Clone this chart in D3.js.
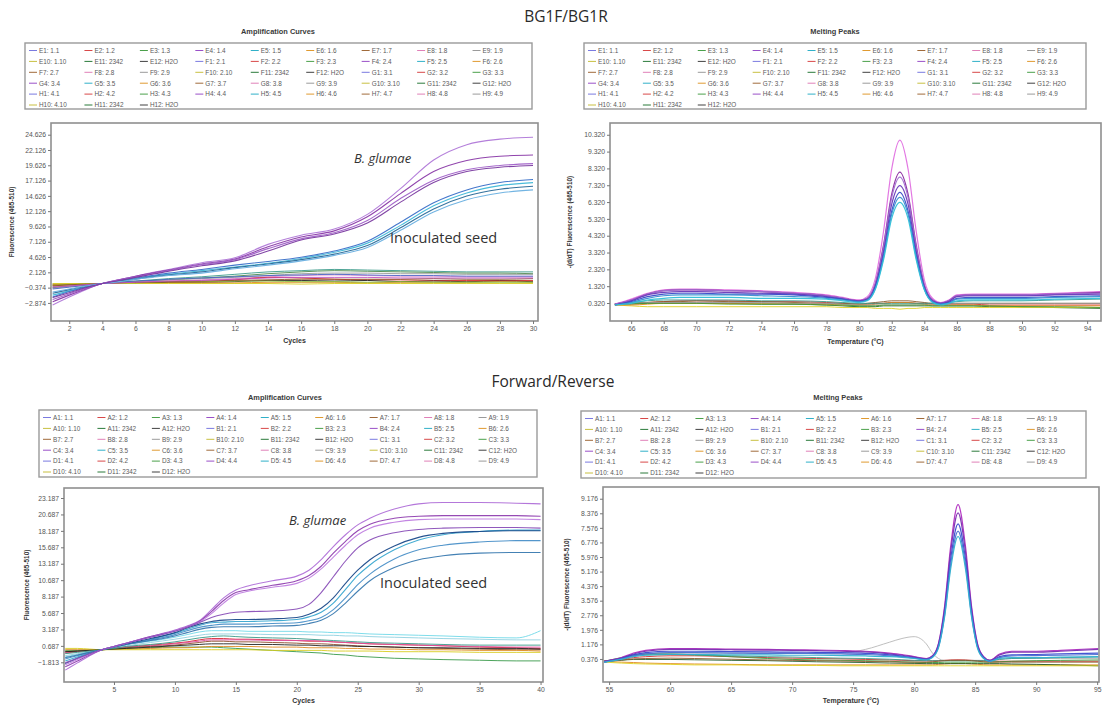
<!DOCTYPE html>
<html>
<head>
<meta charset="utf-8">
<script src="https://cdn.jsdelivr.net/npm/d3@7"></script>
<style>
html, body { margin: 0; padding: 0; background: #fff; }
svg { display: block; font-family: "Liberation Sans", Arial, sans-serif; }
</style>
</head>
<body>
<svg id="chart" width="1105" height="709"></svg>
<script>
// ---------- Legend labels ----------
const legendLabelsBG = [
  "E1: 1.1","E2: 1.2","E3: 1.3","E4: 1.4","E5: 1.5","E6: 1.6","E7: 1.7","E8: 1.8","E9: 1.9",
  "E10: 1.10","E11: 2342","E12: H2O","F1: 2.1","F2: 2.2","F3: 2.3","F4: 2.4","F5: 2.5","F6: 2.6",
  "F7: 2.7","F8: 2.8","F9: 2.9","F10: 2.10","F11: 2342","F12: H2O","G1: 3.1","G2: 3.2","G3: 3.3",
  "G4: 3.4","G5: 3.5","G6: 3.6","G7: 3.7","G8: 3.8","G9: 3.9","G10: 3.10","G11: 2342","G12: H2O",
  "H1: 4.1","H2: 4.2","H3: 4.3","H4: 4.4","H5: 4.5","H6: 4.6","H7: 4.7","H8: 4.8","H9: 4.9",
  "H10: 4.10","H11: 2342","H12: H2O"
];
const legendLabelsFR = [
  "A1: 1.1","A2: 1.2","A3: 1.3","A4: 1.4","A5: 1.5","A6: 1.6","A7: 1.7","A8: 1.8","A9: 1.9",
  "A10: 1.10","A11: 2342","A12: H2O","B1: 2.1","B2: 2.2","B3: 2.3","B4: 2.4","B5: 2.5","B6: 2.6",
  "B7: 2.7","B8: 2.8","B9: 2.9","B10: 2.10","B11: 2342","B12: H2O","C1: 3.1","C2: 3.2","C3: 3.3",
  "C4: 3.4","C5: 3.5","C6: 3.6","C7: 3.7","C8: 3.8","C9: 3.9","C10: 3.10","C11: 2342","C12: H2O",
  "D1: 4.1","D2: 4.2","D3: 4.3","D4: 4.4","D5: 4.5","D6: 4.6","D7: 4.7","D8: 4.8","D9: 4.9",
  "D10: 4.10","D11: 2342","D12: H2O"
];
const legendSwatchColors = ["#7a7ae0","#d84848","#4aa04a","#9a50c8","#30b0c8","#e09a30",
                            "#a06a3a","#e080b8","#9a9a9a","#c8c040","#2a7a3a","#404040"];

// ---------- BG1F/BG1R amplification (fluorescence x1000) ----------
const ampCyclesBG = [1,2,3,4,5,6,7,8,10,12,14,16,18,20,22,24,26,28,30];
const ampTicksXBG = [2,4,6,8,10,12,14,16,18,20,22,24,26,28,30];
const ampTicksYBG = [-2.874,-0.374,2.126,4.626,7.126,9.626,12.126,14.626,17.126,19.626,22.126,24.626];
const ampGlumaeBG = [
  [-3.2,-1.9,-0.7,0.3,0.9,1.5,2.1,2.6,3.7,4.5,6.7,8.2,9.2,11.6,15.8,20.5,23.0,23.9,24.2],
  [-2.7,-1.6,-0.6,0.3,0.9,1.5,2.0,2.5,3.5,4.3,6.3,7.9,8.9,11.2,15.0,18.6,20.4,21.1,21.3],
  [-2.3,-1.4,-0.5,0.3,0.9,1.4,1.9,2.4,3.4,4.2,6.0,7.6,8.6,10.6,14.2,17.2,18.9,19.6,19.9],
  [-2.0,-1.2,-0.4,0.3,0.8,1.3,1.8,2.3,3.2,4.0,5.6,7.4,8.4,10.2,13.6,16.8,18.6,19.3,19.6]
];
const ampSeedBG = [
  [-1.6,-0.9,-0.3,0.3,0.7,1.1,1.5,1.8,2.4,3.0,3.6,4.4,5.4,6.9,9.8,13.0,15.1,16.3,16.8],
  [-1.9,-1.0,-0.3,0.3,0.8,1.2,1.6,2.0,2.6,3.3,3.9,4.6,5.6,7.2,10.3,13.5,15.6,16.8,17.3],
  [-1.3,-0.7,-0.2,0.3,0.7,1.0,1.4,1.7,2.2,2.9,3.5,4.2,5.1,6.5,9.4,12.5,14.6,15.7,16.2],
  [-1.1,-0.6,-0.1,0.3,0.6,1.0,1.3,1.6,2.0,2.7,3.3,4.0,4.9,6.2,9.0,12.0,14.0,15.1,15.6]
];
const ampNegativeBG = [
  [-0.4,-0.1,0.1,0.3,0.5,0.7,0.9,1.1,1.4,1.8,2.2,2.4,2.6,2.5,2.4,2.3,2.2,2.2,2.2],
  [-0.3,-0.1,0.1,0.3,0.5,0.6,0.8,0.9,1.2,1.5,1.9,2.2,2.4,2.3,2.2,2.1,2.0,2.0,1.9],
  [-0.5,-0.2,0.0,0.3,0.4,0.6,0.7,0.9,1.1,1.3,1.6,1.9,2.0,2.0,1.9,1.9,1.8,1.8,1.8],
  [-0.2,0.0,0.2,0.3,0.4,0.5,0.6,0.7,0.9,1.1,1.4,1.6,1.7,1.6,1.5,1.5,1.4,1.4,1.4],
  [0.0,0.1,0.2,0.3,0.3,0.4,0.5,0.5,0.6,0.9,1.3,1.2,1.0,0.9,0.9,0.8,0.8,0.8,0.8],
  [0.2,0.2,0.3,0.3,0.3,0.4,0.4,0.5,0.5,0.6,0.8,0.8,0.7,0.8,0.6,0.7,0.6,0.7,0.6],
  [0.1,0.2,0.2,0.3,0.3,0.3,0.3,0.4,0.4,0.4,0.5,0.5,0.5,0.4,0.5,0.5,0.5,0.6,0.5],
  [0.3,0.3,0.3,0.3,0.3,0.3,0.3,0.3,0.3,0.3,0.3,0.2,0.3,0.3,0.3,0.3,0.3,0.3,0.3],
  [0.0,0.1,0.2,0.3,0.4,0.4,0.5,0.6,0.6,0.7,0.7,0.6,0.6,0.5,0.6,0.5,0.5,0.5,0.5],
  [-0.1,0.1,0.2,0.3,0.4,0.5,0.5,0.6,0.7,0.8,0.9,1.0,1.0,1.0,1.0,1.1,1.0,1.0,1.1],
  [-0.6,-0.3,0.0,0.3,0.5,0.7,0.8,1.0,1.2,1.4,1.6,1.7,1.8,1.7,1.6,1.6,1.5,1.5,1.5],
  [-0.3,-0.1,0.1,0.3,0.4,0.5,0.6,0.7,0.8,1.0,1.2,1.3,1.3,1.3,1.2,1.2,1.2,1.2,1.2]
];

// ---------- BG1F/BG1R melting peaks ----------
const meltTempsBG = [65,66,67,68,69,70,72,74,76,78,79,80,80.5,81,81.5,82,82.5,83,83.5,84,84.5,85,85.5,86,87,88,90,92,94.8];
const meltTicksXBG = [66,68,70,72,74,76,78,80,82,84,86,88,90,92,94];
const meltTicksYBG = [0.32,1.32,2.32,3.32,4.32,5.32,6.32,7.32,8.32,9.32,10.32];
const meltPeakBG = [
  [0.25,0.55,0.9,1.1,1.15,1.15,1.1,1.05,0.95,0.8,0.65,0.5,0.7,1.8,4.6,8.3,10.0,8.3,4.6,1.7,0.6,0.35,0.5,0.8,0.85,0.85,0.85,0.9,1.0],
  [0.25,0.5,0.85,1.05,1.1,1.1,1.05,1.0,0.9,0.75,0.6,0.45,0.6,1.5,3.8,6.8,8.1,6.8,3.8,1.4,0.5,0.3,0.45,0.75,0.8,0.8,0.8,0.85,0.95],
  [0.25,0.5,0.85,1.05,1.1,1.1,1.05,1.0,0.9,0.75,0.6,0.45,0.6,1.45,3.65,6.6,7.8,6.6,3.65,1.35,0.5,0.3,0.45,0.75,0.8,0.8,0.8,0.85,0.9],
  [0.2,0.45,0.8,0.95,1.0,1.0,0.95,0.9,0.85,0.7,0.55,0.45,0.55,1.35,3.4,6.2,7.3,6.2,3.4,1.3,0.45,0.3,0.4,0.7,0.75,0.75,0.75,0.8,0.85],
  [0.2,0.4,0.7,0.85,0.9,0.9,0.85,0.85,0.8,0.65,0.55,0.4,0.5,1.3,3.2,5.8,6.9,5.8,3.2,1.2,0.4,0.25,0.35,0.6,0.65,0.65,0.65,0.7,0.75],
  [0.2,0.35,0.6,0.75,0.8,0.8,0.8,0.75,0.7,0.6,0.5,0.4,0.5,1.2,3.05,5.6,6.6,5.6,3.05,1.15,0.4,0.25,0.3,0.55,0.6,0.6,0.6,0.65,0.7],
  [0.2,0.3,0.5,0.6,0.65,0.65,0.65,0.6,0.6,0.55,0.45,0.35,0.45,1.15,2.9,5.35,6.3,5.35,2.9,1.1,0.35,0.2,0.3,0.45,0.5,0.5,0.5,0.55,0.6]
];
const meltNegativeBG = [
  [0.25,0.3,0.35,0.4,0.45,0.45,0.45,0.4,0.4,0.35,0.3,0.25,0.25,0.3,0.3,0.35,0.35,0.35,0.3,0.3,0.25,0.25,0.25,0.25,0.25,0.2,0.2,0.2,0.2],
  [0.25,0.3,0.35,0.4,0.4,0.45,0.4,0.4,0.35,0.3,0.3,0.25,0.3,0.35,0.4,0.45,0.45,0.45,0.4,0.35,0.3,0.3,0.3,0.3,0.3,0.3,0.3,0.3,0.3],
  [0.25,0.25,0.3,0.3,0.3,0.3,0.3,0.25,0.25,0.2,0.15,0.1,0.1,0.1,0.15,0.15,0.15,0.15,0.15,0.15,0.15,0.15,0.15,0.15,0.15,0.1,0.1,0.05,0.0],
  [0.2,0.15,0.1,0.1,0.1,0.1,0.1,0.1,0.1,0.1,0.05,0.05,0.05,0.0,0.0,0.0,-0.05,0.0,0.0,0.05,0.05,0.05,0.05,0.05,0.05,0.05,0.05,0.05,0.05],
  [0.2,0.2,0.25,0.3,0.3,0.3,0.3,0.3,0.3,0.25,0.2,0.2,0.2,0.25,0.3,0.35,0.35,0.35,0.3,0.25,0.2,0.2,0.2,0.2,0.2,0.15,0.15,0.15,0.15],
  [0.25,0.35,0.45,0.5,0.5,0.5,0.5,0.45,0.45,0.4,0.35,0.3,0.3,0.3,0.3,0.3,0.3,0.3,0.3,0.3,0.3,0.3,0.35,0.4,0.45,0.45,0.45,0.5,0.55],
  [0.25,0.3,0.35,0.35,0.35,0.35,0.35,0.35,0.3,0.3,0.25,0.2,0.2,0.2,0.2,0.2,0.2,0.2,0.2,0.2,0.2,0.25,0.25,0.3,0.3,0.3,0.3,0.3,0.3],
  [0.25,0.3,0.3,0.3,0.3,0.3,0.25,0.25,0.25,0.2,0.2,0.15,0.15,0.15,0.2,0.2,0.2,0.2,0.2,0.2,0.15,0.15,0.15,0.15,0.15,0.15,0.1,0.1,0.05]
];

// ---------- Forward/Reverse amplification ----------
const ampCyclesFR = [1,2,3,4,5,6,8,10,11,12,13,14,15,16,18,20,21,22,23,24,25,26,28,30,32,35,38,40];
const ampTicksXFR = [5,10,15,20,25,30,35,40];
const ampTicksYFR = [-1.813,0.687,3.187,5.687,8.187,10.687,13.187,15.687,18.187,20.687,23.187];
const ampGlumaeFR = [
  [-3.0,-1.9,-0.8,0.1,0.6,1.1,2.1,3.1,3.7,4.5,6.2,8.0,9.2,9.8,10.6,11.3,12.2,13.8,15.8,17.6,19.1,20.1,21.5,22.3,22.5,22.5,22.4,22.3],
  [-2.5,-1.6,-0.7,0.1,0.6,1.1,2.1,3.0,3.6,4.4,5.9,7.6,8.8,9.2,9.9,10.6,11.4,12.8,14.8,16.6,18.2,19.2,20.1,20.4,20.5,20.5,20.5,20.4],
  [-2.2,-1.4,-0.6,0.1,0.6,1.1,2.0,3.0,3.6,4.3,5.6,7.2,8.5,9.0,9.6,10.2,11.0,12.4,14.2,16.0,17.6,18.6,19.5,19.9,20.0,20.0,20.0,19.9],
  [-1.9,-1.2,-0.5,0.1,0.6,1.1,2.0,2.9,3.5,4.2,5.0,5.5,5.8,5.9,6.0,6.3,7.0,8.8,11.2,13.6,15.6,16.8,17.9,18.4,18.6,18.7,18.7,18.6]
];
const ampSeedFR = [
  [-1.6,-1.0,-0.4,0.1,0.5,0.9,1.7,2.6,3.2,3.8,4.2,4.3,4.4,4.4,4.5,4.7,5.1,5.8,7.2,9.3,11.4,13.0,15.3,16.8,17.6,18.1,18.3,18.3],
  [-1.3,-0.8,-0.3,0.1,0.5,0.9,1.6,2.4,3.0,3.5,3.8,4.0,4.0,4.0,4.1,4.2,4.5,5.0,6.2,8.0,10.0,11.6,13.9,15.3,16.0,16.5,16.7,16.7],
  [-1.1,-0.7,-0.3,0.1,0.5,0.9,1.5,2.2,2.7,3.2,3.5,3.6,3.6,3.6,3.7,3.8,4.1,4.6,5.6,7.2,9.0,10.6,12.6,13.8,14.4,14.8,14.9,14.9],
  [-2.0,-1.2,-0.5,0.1,0.6,1.0,1.8,2.7,3.4,4.0,4.4,4.6,4.7,4.7,4.8,5.0,5.5,6.4,8.0,10.2,12.2,13.8,15.9,17.2,17.8,18.1,18.2,18.2]
];
const ampNegativeFR = [
  [-1.0,-0.6,-0.2,0.1,0.5,0.9,1.4,2.0,2.4,2.8,3.0,3.0,3.0,2.9,2.9,2.9,2.8,2.8,2.7,2.7,2.6,2.5,2.4,2.3,2.2,2.0,1.9,3.0],
  [-0.8,-0.5,-0.2,0.1,0.4,0.7,1.2,1.7,2.0,2.3,2.5,2.5,2.5,2.5,2.4,2.4,2.4,2.3,2.3,2.2,2.2,2.1,2.0,1.9,1.8,1.7,1.6,1.6],
  [-0.4,-0.2,0.0,0.1,0.3,0.5,0.8,1.1,1.3,1.6,1.8,1.8,1.7,1.7,1.6,1.5,1.4,1.4,1.3,1.2,1.1,1.0,0.9,0.8,0.7,0.5,0.4,0.3],
  [-0.3,-0.1,0.0,0.1,0.3,0.5,0.7,1.0,1.2,1.4,1.6,1.6,1.6,1.6,1.5,1.5,1.5,1.4,1.3,1.2,1.1,1.0,0.9,0.8,0.7,0.6,0.5,0.5],
  [-0.2,-0.1,0.0,0.1,0.2,0.4,0.6,0.8,1.0,1.2,1.4,1.4,1.3,1.3,1.2,1.1,1.0,1.0,0.9,0.8,0.7,0.6,0.5,0.4,0.3,0.2,0.1,0.1],
  [0.0,0.0,0.1,0.1,0.2,0.3,0.4,0.5,0.5,0.5,0.5,0.4,0.3,0.2,0.0,-0.2,-0.3,-0.4,-0.6,-0.7,-0.9,-1.0,-1.2,-1.3,-1.4,-1.5,-1.6,-1.6],
  [0.1,0.1,0.1,0.1,0.2,0.2,0.3,0.4,0.4,0.5,0.6,0.6,0.6,0.6,0.5,0.5,0.4,0.4,0.4,0.3,0.3,0.2,0.2,0.1,0.1,0.0,0.0,-0.1],
  [0.3,0.3,0.2,0.1,0.1,0.1,0.1,0.1,0.1,0.1,0.1,0.1,0.1,0.1,0.0,0.0,0.0,0.0,-0.1,-0.1,-0.1,-0.1,-0.2,-0.2,-0.2,-0.3,-0.3,-0.3],
  [-0.2,-0.1,0.0,0.1,0.2,0.3,0.5,0.7,0.8,0.9,1.0,1.0,1.0,0.9,0.9,0.8,0.8,0.7,0.7,0.7,0.6,0.6,0.5,0.4,0.4,0.3,0.3,0.2],
  [-0.5,-0.3,-0.1,0.1,0.3,0.6,0.9,1.3,1.6,1.9,2.1,2.2,2.1,2.0,1.9,1.8,1.7,1.6,1.5,1.4,1.3,1.2,1.1,1.0,0.9,0.8,0.8,0.8]
];

// ---------- Forward/Reverse melting peaks ----------
const meltTempsFR = [54.6,56,57,58,60,62,65,68,70,72,74,76,78,79,80,81,81.5,82,82.5,83,83.6,84.2,84.7,85.2,85.7,86.2,87,88,90,92,95.1];
const meltTicksXFR = [55,60,65,70,75,80,85,90,95];
const meltTicksYFR = [0.376,1.176,1.976,2.776,3.576,4.376,5.176,5.976,6.776,7.576,8.376,9.176];
const meltPeakFR = [
  [0.25,0.45,0.7,0.85,0.95,0.95,0.92,0.9,0.88,0.86,0.84,0.8,0.7,0.62,0.5,0.4,0.55,1.25,3.3,6.6,8.85,6.6,3.3,1.2,0.5,0.3,0.65,0.8,0.8,0.85,0.95],
  [0.25,0.42,0.65,0.8,0.9,0.9,0.88,0.86,0.85,0.83,0.8,0.76,0.66,0.58,0.48,0.38,0.52,1.2,3.15,6.3,8.4,6.3,3.15,1.15,0.48,0.3,0.6,0.75,0.75,0.8,0.9],
  [0.2,0.4,0.6,0.72,0.8,0.8,0.78,0.76,0.75,0.74,0.72,0.68,0.6,0.53,0.44,0.35,0.5,1.1,2.95,5.9,7.8,5.9,2.95,1.05,0.45,0.25,0.5,0.6,0.62,0.65,0.7],
  [0.2,0.38,0.55,0.65,0.72,0.72,0.7,0.68,0.68,0.67,0.65,0.62,0.55,0.5,0.42,0.34,0.48,1.05,2.8,5.6,7.4,5.6,2.8,1.0,0.42,0.25,0.45,0.55,0.56,0.58,0.62],
  [0.2,0.35,0.5,0.58,0.62,0.62,0.6,0.6,0.58,0.58,0.56,0.54,0.5,0.46,0.4,0.32,0.45,1.0,2.7,5.35,7.1,5.35,2.7,0.95,0.4,0.25,0.4,0.45,0.45,0.48,0.5]
];
const meltNegativeFR = [
  [0.25,0.4,0.55,0.65,0.7,0.7,0.7,0.7,0.7,0.7,0.7,0.9,1.3,1.5,1.6,1.2,0.7,0.4,0.3,0.3,0.3,0.3,0.3,0.3,0.3,0.3,0.35,0.4,0.4,0.4,0.4],
  [0.25,0.35,0.45,0.5,0.55,0.55,0.5,0.45,0.42,0.4,0.38,0.35,0.32,0.3,0.28,0.27,0.27,0.28,0.3,0.32,0.33,0.32,0.3,0.28,0.27,0.26,0.25,0.25,0.25,0.25,0.25],
  [0.25,0.45,0.6,0.65,0.65,0.6,0.5,0.4,0.35,0.32,0.3,0.28,0.25,0.22,0.2,0.18,0.18,0.18,0.2,0.2,0.2,0.2,0.2,0.2,0.2,0.2,0.22,0.25,0.28,0.3,0.32],
  [0.25,0.4,0.55,0.6,0.62,0.6,0.55,0.5,0.48,0.45,0.42,0.4,0.36,0.33,0.3,0.28,0.28,0.28,0.28,0.28,0.28,0.28,0.28,0.28,0.28,0.3,0.35,0.4,0.42,0.45,0.48],
  [0.25,0.2,0.18,0.15,0.12,0.1,0.08,0.05,0.05,0.05,0.05,0.05,0.05,0.05,0.05,0.05,0.05,0.08,0.1,0.12,0.12,0.12,0.1,0.08,0.06,0.05,0.05,0.05,0.05,0.05,0.05],
  [0.25,0.3,0.35,0.35,0.35,0.33,0.3,0.28,0.25,0.22,0.2,0.18,0.15,0.14,0.13,0.12,0.12,0.12,0.12,0.12,0.12,0.12,0.12,0.12,0.12,0.12,0.12,0.1,0.08,0.05,0.0],
  [0.2,0.15,0.12,0.1,0.08,0.05,0.05,0.03,0.02,0.02,0.0,0.0,0.0,0.0,0.0,0.0,0.0,0.0,0.0,0.0,0.0,0.0,0.0,0.0,0.0,0.0,0.0,0.0,0.0,0.0,0.0],
  [0.25,0.32,0.38,0.4,0.42,0.4,0.36,0.32,0.3,0.28,0.26,0.24,0.22,0.2,0.2,0.2,0.22,0.25,0.28,0.3,0.3,0.3,0.28,0.25,0.22,0.2,0.2,0.2,0.2,0.2,0.2]
];

// ---------- line colours ----------
const glumaeColors = ["#b078d8","#8a3aa8","#a060c8","#7a3aa0"];
const seedColors = ["#40b8d8","#3a70c8","#2a6a98","#6ab0e0"];
const negColorsAmpBG = ["#3a9a8a","#4a8a4a","#9a9a9a","#e088c8","#d42020","#222222","#e08a20","#d8cc20","#8cc040","#8b5a2b","#4a66c8","#c050c0"];
const peakColorsBG = ["#e070e0","#8a2aa0","#a070d0","#6a3ab8","#3a4ac8","#3a90d0","#30c0d8"];
const negColorsMeltBG = ["#d03030","#8b5a2b","#1f6a2a","#e0d020","#e08a20","#3a9a8a","#9a9a9a","#4a9a3a"];
const glumaeColorsFR = ["#b070d8","#9040b0","#c080e0","#8a50b8"];
const seedColorsFR = ["#3aa8d0","#4a90c8","#3a7ab0","#1a4a8a"];
const negColorsAmpFR = ["#70d8e8","#90d0e0","#d42030","#e050a0","#8b4a2b","#3a9a4a","#e08a20","#d8cc20","#222222","#3a9a8a"];
const peakColorsFR = ["#b030c0","#7a30b0","#3a4ad0","#4a70d0","#30b0d0"];
const negColorsMeltFR = ["#b8b8b8","#d03030","#3a9a3a","#3a9a8a","#e08a20","#1f5a2a","#e0d020","#8b5a2b"];

const svg = d3.select("#chart");
const defs = svg.append("defs");
let clipCount = 0;

function drawLegend(box, labels) {
  const [x0, y0, x1, y1] = box;
  const g = svg.append("g");
  g.append("rect").attr("x", x0).attr("y", y0).attr("width", x1 - x0).attr("height", y1 - y0)
    .attr("fill", "#fff").attr("stroke", "#9a9a9a").attr("stroke-width", 1.4);
  const colW = (x1 - x0 - 8) / 9;
  labels.forEach((lab, i) => {
    const cx = x0 + 4 + (i % 9) * colW;
    const cy = y0 + 7.5 + Math.floor(i / 9) * 10.9;
    g.append("line").attr("x1", cx).attr("x2", cx + 8).attr("y1", cy).attr("y2", cy)
      .attr("stroke", legendSwatchColors[i % legendSwatchColors.length]).attr("stroke-width", 1);
    g.append("text").attr("x", cx + 10).attr("y", cy + 2.3).attr("font-size", 6.4)
      .attr("fill", "#5a5a5a").text(lab);
  });
}

function drawPanel(p) {
  const [fx0, fy0, fx1, fy1] = p.frame;
  const x = d3.scaleLinear().domain(p.xDomain).range([fx0, fx1]);
  const y = d3.scaleLinear().domain(p.yDomain).range([fy1, fy0]);
  const g = svg.append("g");
  const cid = "clip" + (clipCount++);
  defs.append("clipPath").attr("id", cid).append("rect")
    .attr("x", fx0).attr("y", fy0).attr("width", fx1 - fx0).attr("height", fy1 - fy0);

  g.append("rect").attr("x", fx0).attr("y", fy0).attr("width", fx1 - fx0).attr("height", fy1 - fy0)
    .attr("fill", "#fff");

  const line = d3.line()
    .x((d, i) => x(p.xs[i]))
    .y(d => y(d))
    .curve(d3.curveMonotoneX);

  const lines = g.append("g").attr("clip-path", `url(#${cid})`);
  p.groups.forEach(grp => {
    grp.data.forEach((vals, k) => {
      lines.append("path").attr("d", line(vals)).attr("fill", "none")
        .attr("stroke", grp.colors[k % grp.colors.length])
        .attr("stroke-width", grp.width).attr("stroke-opacity", grp.opacity);
    });
  });

  g.append("rect").attr("x", fx0).attr("y", fy0).attr("width", fx1 - fx0).attr("height", fy1 - fy0)
    .attr("fill", "none").attr("stroke", "#8f8f8f").attr("stroke-width", 1.6);

  const xAxis = g.append("g").attr("transform", `translate(0,${fy1})`)
    .call(d3.axisBottom(x).tickValues(p.xTicks).tickSize(3).tickPadding(2).tickFormat(d3.format("d")));
  const yAxis = g.append("g").attr("transform", `translate(${fx0},0)`)
    .call(d3.axisLeft(y).tickValues(p.yTicks).tickSize(3).tickPadding(2).tickFormat(d3.format(".3f")));
  [xAxis, yAxis].forEach(a => {
    a.select(".domain").remove();
    a.selectAll(".tick line").attr("stroke", "#777");
    a.selectAll(".tick text").attr("font-size", 6.8).attr("fill", "#555")
      .attr("font-family", "Liberation Sans, Arial, sans-serif");
  });

  g.append("text").attr("x", (fx0 + fx1) / 2).attr("y", p.xTitleY)
    .attr("text-anchor", "middle").attr("font-size", 7).attr("font-weight", "bold")
    .attr("fill", "#333").text(p.xTitle);
  g.append("text").attr("transform", `translate(${p.yTitleX},${(fy0 + fy1) / 2}) rotate(-90)`)
    .attr("text-anchor", "middle").attr("font-size", 6.4).attr("font-weight", "bold")
    .attr("fill", "#333").text(p.yTitle);

  (p.notes || []).forEach(n => {
    g.append("text").attr("x", n.x).attr("y", n.y).attr("font-size", n.size)
      .attr("font-style", n.italic ? "italic" : "normal")
      .attr("font-family", "Open Sans, Noto Sans, sans-serif")
      .attr("fill", "#333").text(n.text);
  });
}

function plotTitle(text, cx, y) {
  svg.append("text").attr("x", cx).attr("y", y).attr("text-anchor", "middle")
    .attr("font-size", 7.4).attr("font-weight", "bold").attr("fill", "#3a3a3a").text(text);
}

// ---------- headings ----------
svg.append("text").attr("x", 566).attr("y", 22).attr("text-anchor", "middle")
  .attr("font-family", "Open Sans, Noto Sans, sans-serif").attr("font-size", 15.5)
  .attr("fill", "#2a2a2a").text("BG1F/BG1R");
svg.append("text").attr("x", 553).attr("y", 387).attr("text-anchor", "middle")
  .attr("font-family", "Open Sans, Noto Sans, sans-serif").attr("font-size", 15.5)
  .attr("fill", "#2a2a2a").text("Forward/Reverse");

// ---------- top-left: amplification ----------
plotTitle("Amplification Curves", 278, 34);
drawLegend([25, 43, 532, 109], legendLabelsBG);
drawPanel({
  frame: [51, 123, 538, 321],
  xDomain: [0.9, 30.3], yDomain: [-5.83, 26.54],
  xs: ampCyclesBG, xTicks: ampTicksXBG, yTicks: ampTicksYBG,
  xTitle: "Cycles", xTitleY: 343,
  yTitle: "Fluorescence (465-510)", yTitleX: 14,
  groups: [
    { data: ampNegativeBG, colors: negColorsAmpBG, width: 1, opacity: 0.9 },
    { data: ampSeedBG, colors: seedColors, width: 1.1, opacity: 0.95 },
    { data: ampGlumaeBG, colors: glumaeColors, width: 1.1, opacity: 0.95 }
  ],
  notes: [
    { text: "B. glumae", x: 354, y: 163, size: 13, italic: true },
    { text: "Inoculated seed", x: 390, y: 243, size: 14.5, italic: false }
  ]
});

// ---------- top-right: melting peaks ----------
plotTitle("Melting Peaks", 835, 34);
drawLegend([584, 43, 1086, 109], legendLabelsBG);
drawPanel({
  frame: [610, 123, 1101, 321],
  xDomain: [64.7, 94.85], yDomain: [-0.75, 11.02],
  xs: meltTempsBG, xTicks: meltTicksXBG, yTicks: meltTicksYBG,
  xTitle: "Temperature (°C)", xTitleY: 344,
  yTitle: "-(d/dT) Fluorescence (465-510)", yTitleX: 572,
  groups: [
    { data: meltNegativeBG, colors: negColorsMeltBG, width: 1, opacity: 0.9 },
    { data: meltPeakBG, colors: peakColorsBG, width: 1.2, opacity: 0.95 }
  ]
});

// ---------- bottom-left: amplification ----------
plotTitle("Amplification Curves", 285, 400);
drawLegend([39, 410, 537, 477], legendLabelsFR);
drawPanel({
  frame: [64, 488, 543, 682],
  xDomain: [0.9, 40.2], yDomain: [-4.81, 24.71],
  xs: ampCyclesFR, xTicks: ampTicksXFR, yTicks: ampTicksYFR,
  xTitle: "Cycles", xTitleY: 703,
  yTitle: "Fluorescence (465-510)", yTitleX: 29,
  groups: [
    { data: ampNegativeFR, colors: negColorsAmpFR, width: 1, opacity: 0.9 },
    { data: ampSeedFR, colors: seedColorsFR, width: 1.1, opacity: 0.95 },
    { data: ampGlumaeFR, colors: glumaeColorsFR, width: 1.1, opacity: 0.95 }
  ],
  notes: [
    { text: "B. glumae", x: 289, y: 525, size: 13, italic: true },
    { text: "Inoculated seed", x: 380, y: 588, size: 14.5, italic: false }
  ]
});

// ---------- bottom-right: melting peaks ----------
plotTitle("Melting Peaks", 838, 400);
drawLegend([581, 411, 1086, 478], legendLabelsFR);
drawPanel({
  frame: [603, 487, 1099, 682],
  xDomain: [54.5, 95.15], yDomain: [-0.89, 9.82],
  xs: meltTempsFR, xTicks: meltTicksXFR, yTicks: meltTicksYFR,
  xTitle: "Temperature (°C)", xTitleY: 703,
  yTitle: "-(d/dT) Fluorescence (465-510)", yTitleX: 569,
  groups: [
    { data: meltNegativeFR, colors: negColorsMeltFR, width: 1, opacity: 0.9 },
    { data: meltPeakFR, colors: peakColorsFR, width: 1.2, opacity: 0.95 }
  ]
});
</script>
</body>
</html>
